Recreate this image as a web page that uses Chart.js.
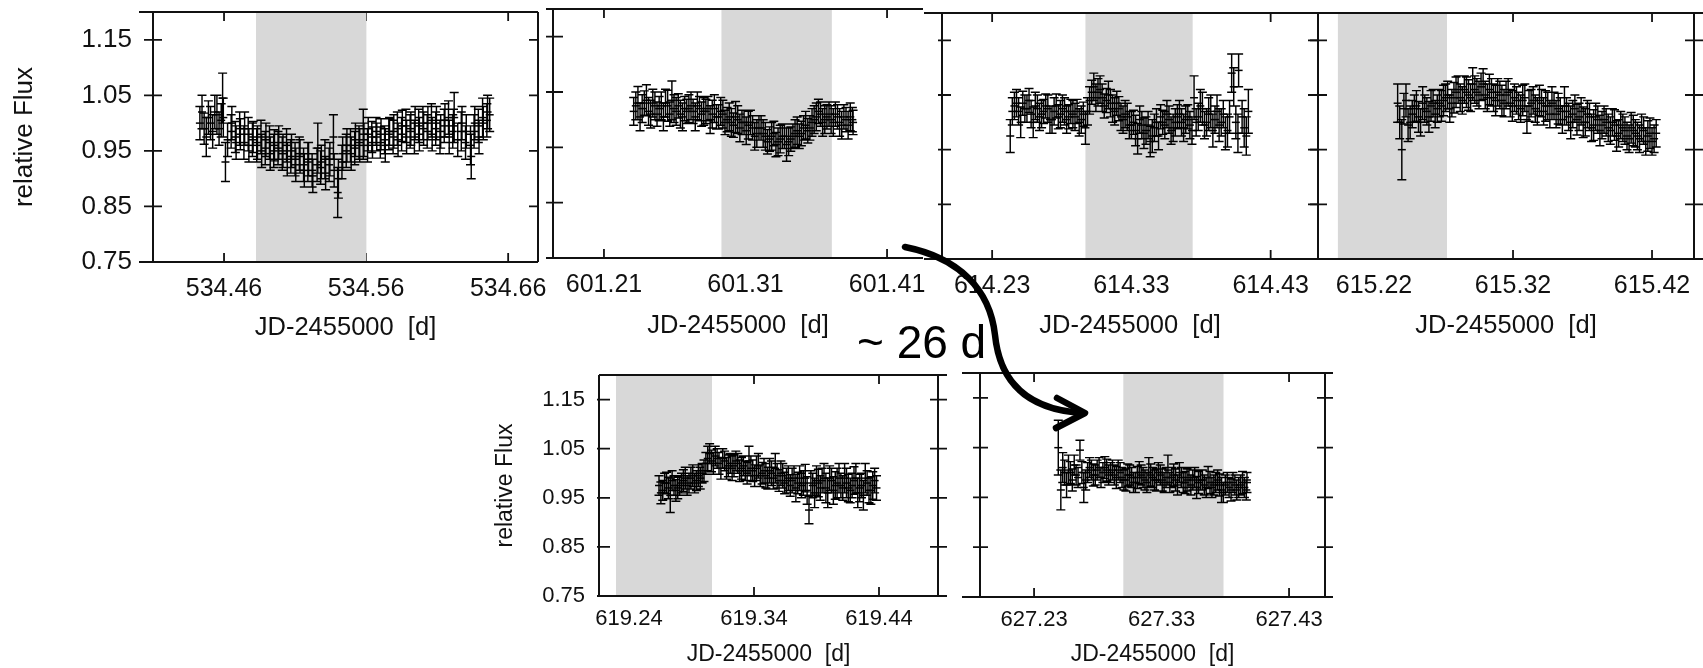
<!DOCTYPE html>
<html>
<head>
<meta charset="utf-8">
<title>light curves</title>
<script src="https://cdn.jsdelivr.net/npm/chart.js@4.4.1/dist/chart.umd.min.js"></script>
<style>
  body { margin: 0; background: #fff; width: 1703px; height: 668px; position: relative; overflow: hidden; }
  canvas { position: absolute; }
  svg { position: absolute; left: 0; top: 0; }
</style>
</head>
<body>
<canvas id="p1"></canvas>
<canvas id="p2"></canvas>
<canvas id="p3"></canvas>
<canvas id="p4"></canvas>
<canvas id="p5"></canvas>
<canvas id="p6"></canvas>
<svg width="1703" height="668">
  <path d="M905 247 C960 258 990 290 995 335 C1000 385 1030 410 1083 413" fill="none" stroke="#000" stroke-width="6.5" stroke-linecap="round"/>
  <polyline points="1057,398 1085,413 1056,428" fill="none" stroke="#000" stroke-width="6.5" stroke-linecap="round" stroke-linejoin="round"/>
  <text x="857" y="358" font-family="Liberation Sans, Arial, sans-serif" font-size="46" fill="#000">~ 26 d</text>
</svg>
<script>
// y axis is the same for every panel
const fluxTicks = [0.75, 0.85, 0.95, 1.05, 1.15];

// panel 1 (two interleaved halves of the run)
const p1Time = [534.443, 534.446, 534.449, 534.452, 534.455, 534.458, 534.459, 534.461, 534.465, 534.468,
  534.471, 534.474, 534.477, 534.480, 534.483, 534.486, 534.489, 534.492, 534.495, 534.498,
  534.501, 534.504, 534.507, 534.510, 534.513, 534.516, 534.519, 534.522, 534.526, 534.528,
  534.531, 534.534, 534.537, 534.540, 534.543, 534.546, 534.549, 534.552, 534.555, 534.558,
  534.561, 534.564, 534.567, 534.570, 534.573, 534.576, 534.579, 534.582, 534.585, 534.588,
  534.591, 534.594, 534.597, 534.600, 534.603, 534.606, 534.609, 534.612, 534.615, 534.618,
  534.621, 534.622, 534.627, 534.630, 534.634, 534.636, 534.639, 534.642, 534.645, 534.647];
const p1Flux = [1.000, 0.990, 1.010, 0.985, 1.015, 1.005, 1.045, 0.930, 0.985, 0.975,
  0.990, 0.965, 0.980, 0.970, 0.960, 0.975, 0.955, 0.965, 0.950, 0.955,
  0.945, 0.960, 0.940, 0.935, 0.945, 0.925, 0.930, 0.915, 0.955, 0.920,
  0.935, 0.925, 0.975, 0.875, 0.930, 0.950, 0.960, 0.955, 0.965, 0.980,
  0.960, 0.975, 0.985, 0.965, 0.970, 0.980, 0.975, 0.990, 0.980, 0.995,
  0.985, 0.975, 0.995, 1.000, 0.985, 1.005, 0.990, 0.975, 0.995, 1.010,
  0.985, 1.010, 0.985, 0.965, 0.940, 0.985, 0.995, 1.010, 1.005, 1.015];
const p1Err = [0.03, 0.028, 0.03, 0.03, 0.035, 0.03, 0.045, 0.035, 0.03, 0.028,
  0.03, 0.03, 0.03, 0.03, 0.03, 0.03, 0.03, 0.03, 0.03, 0.03,
  0.03, 0.03, 0.03, 0.03, 0.03, 0.03, 0.035, 0.03, 0.045, 0.03,
  0.035, 0.03, 0.04, 0.045, 0.03, 0.03, 0.03, 0.03, 0.03, 0.045,
  0.03, 0.028, 0.025, 0.028, 0.025, 0.028, 0.03, 0.03, 0.03, 0.03,
  0.03, 0.03, 0.03, 0.03, 0.03, 0.03, 0.03, 0.03, 0.03, 0.03,
  0.03, 0.045, 0.035, 0.03, 0.04, 0.03, 0.03, 0.035, 0.03, 0.03];
const p1TimeB = [534.4445, 534.4475, 534.4505, 534.4535, 534.4565, 534.4595, 534.4625, 534.4655, 534.4685, 534.4715,
  534.4745, 534.4775, 534.4805, 534.4835, 534.4865, 534.4895, 534.4925, 534.4955, 534.4985, 534.5015,
  534.5045, 534.5075, 534.5105, 534.5135, 534.5165, 534.5195, 534.5225, 534.5255, 534.5285, 534.5315,
  534.5345, 534.5375, 534.5405, 534.5435, 534.5465, 534.5495, 534.5525, 534.5555, 534.5585, 534.5615,
  534.5645, 534.5675, 534.5705, 534.5735, 534.5765, 534.5795, 534.5825, 534.5855, 534.5885, 534.5915,
  534.5945, 534.5975, 534.6005, 534.6035, 534.6065, 534.6095, 534.6125, 534.6155, 534.6185, 534.6215,
  534.6245, 534.6275, 534.6305, 534.6335, 534.6365, 534.6395, 534.6425, 534.6455];
const p1FluxB = [1.020, 0.975, 1.000, 1.020, 0.990, 1.010, 0.970, 1.000, 0.965, 0.980,
  0.990, 0.960, 0.975, 0.965, 0.950, 0.970, 0.945, 0.960, 0.965, 0.950,
  0.935, 0.950, 0.925, 0.940, 0.915, 0.935, 0.905, 0.925, 0.930, 0.910,
  0.935, 0.915, 0.900, 0.945, 0.960, 0.945, 0.970, 0.960, 0.970, 0.980,
  0.965, 0.975, 0.980, 0.960, 0.985, 0.985, 0.970, 0.995, 0.975, 0.990,
  1.000, 0.980, 0.990, 1.000, 0.980, 1.000, 0.985, 1.005, 0.975, 0.995,
  0.970, 1.000, 0.985, 0.960, 1.000, 0.975, 1.000, 1.020];
const p1ErrB = [0.03, 0.035, 0.03, 0.03, 0.03, 0.035, 0.03, 0.03, 0.03, 0.028,
  0.03, 0.03, 0.028, 0.03, 0.03, 0.03, 0.03, 0.028, 0.03, 0.03,
  0.03, 0.03, 0.03, 0.03, 0.03, 0.03, 0.03, 0.03, 0.03, 0.03,
  0.03, 0.03, 0.035, 0.03, 0.03, 0.03, 0.03, 0.03, 0.03, 0.03,
  0.028, 0.025, 0.028, 0.03, 0.025, 0.03, 0.03, 0.028, 0.03, 0.03,
  0.03, 0.03, 0.03, 0.03, 0.03, 0.03, 0.03, 0.03, 0.03, 0.03,
  0.03, 0.03, 0.03, 0.035, 0.03, 0.03, 0.03, 0.03];
const p1Ticks = [534.46, 534.56, 534.66];
const p1Shade = [534.4825, 534.5602];

// panel 2
const p2Time = [601.231, 601.234, 601.237, 601.240, 601.243, 601.246, 601.249, 601.252, 601.255, 601.258,
  601.261, 601.264, 601.267, 601.270, 601.273, 601.276, 601.279, 601.282, 601.285, 601.288,
  601.291, 601.294, 601.297, 601.300, 601.303, 601.306, 601.309, 601.312, 601.315, 601.318,
  601.321, 601.324, 601.327, 601.330, 601.333, 601.336, 601.339, 601.342, 601.345, 601.348,
  601.351, 601.354, 601.357, 601.360, 601.363, 601.366, 601.369, 601.372, 601.375, 601.378,
  601.381, 601.384, 601.386];
const p2Flux = [1.015, 1.030, 1.020, 1.035, 1.010, 1.025, 1.020, 1.005, 1.025, 1.035,
  1.015, 1.010, 1.020, 1.020, 1.015, 1.025, 1.010, 1.015, 1.000, 1.020,
  1.005, 1.010, 1.000, 0.995, 1.005, 0.985, 0.995, 0.990, 0.985, 0.975,
  0.985, 0.970, 0.965, 0.975, 0.960, 0.970, 0.955, 0.965, 0.975, 0.970,
  0.985, 0.980, 0.995, 1.005, 1.010, 1.000, 1.010, 0.995, 1.005, 0.990,
  1.000, 1.005, 0.995];
const p2Err = [0.025, 0.03, 0.025, 0.028, 0.025, 0.025, 0.022, 0.025, 0.028, 0.035,
  0.025, 0.025, 0.022, 0.025, 0.022, 0.025, 0.022, 0.022, 0.025, 0.025,
  0.022, 0.025, 0.022, 0.025, 0.028, 0.025, 0.022, 0.025, 0.022, 0.025,
  0.022, 0.025, 0.022, 0.022, 0.025, 0.022, 0.03, 0.022, 0.025, 0.022,
  0.022, 0.022, 0.025, 0.025, 0.022, 0.025, 0.022, 0.025, 0.022, 0.025,
  0.022, 0.025, 0.022];
const p2TimeB = [601.2325, 601.2355, 601.2385, 601.2415, 601.2445, 601.2475, 601.2505, 601.2535, 601.2565, 601.2595,
  601.2625, 601.2655, 601.2685, 601.2715, 601.2745, 601.2775, 601.2805, 601.2835, 601.2865, 601.2895,
  601.2925, 601.2955, 601.2985, 601.3015, 601.3045, 601.3075, 601.3105, 601.3135, 601.3165, 601.3195,
  601.3225, 601.3255, 601.3285, 601.3315, 601.3345, 601.3375, 601.3405, 601.3435, 601.3465, 601.3495,
  601.3525, 601.3555, 601.3585, 601.3615, 601.3645, 601.3675, 601.3705, 601.3735, 601.3765, 601.3795,
  601.3825, 601.3855];
const p2FluxB = [1.025, 1.005, 1.030, 1.015, 1.030, 1.010, 1.025, 1.030, 1.010, 1.020,
  1.025, 1.005, 1.015, 1.025, 1.005, 1.020, 1.015, 1.020, 1.010, 1.005,
  1.015, 0.995, 1.005, 0.990, 1.000, 0.995, 0.980, 0.995, 0.970, 0.985,
  0.975, 0.960, 0.970, 0.955, 0.965, 0.970, 0.960, 0.970, 0.980, 0.975,
  0.990, 0.985, 1.000, 1.015, 0.995, 1.005, 1.000, 1.010, 0.995, 1.005,
  0.990, 1.000];
const p2ErrB = [0.025, 0.025, 0.022, 0.025, 0.025, 0.022, 0.025, 0.025, 0.022, 0.025,
  0.022, 0.025, 0.022, 0.025, 0.025, 0.022, 0.025, 0.022, 0.025, 0.022,
  0.025, 0.022, 0.025, 0.022, 0.025, 0.022, 0.025, 0.022, 0.025, 0.022,
  0.025, 0.022, 0.025, 0.022, 0.025, 0.022, 0.025, 0.022, 0.025, 0.022,
  0.025, 0.022, 0.025, 0.022, 0.025, 0.022, 0.025, 0.022, 0.025, 0.022,
  0.025, 0.022];
const p2Ticks = [601.21, 601.31, 601.41];
const p2Shade = [601.293, 601.371];

// panel 3
const p3Time = [614.243, 614.246, 614.249, 614.252, 614.255, 614.258, 614.261, 614.264, 614.267, 614.270,
  614.273, 614.276, 614.279, 614.282, 614.285, 614.288, 614.291, 614.294, 614.297, 614.300,
  614.303, 614.306, 614.309, 614.312, 614.315, 614.318, 614.321, 614.324, 614.327, 614.330,
  614.333, 614.336, 614.339, 614.342, 614.345, 614.348, 614.351, 614.354, 614.357, 614.360,
  614.363, 614.366, 614.369, 614.372, 614.375, 614.378, 614.381, 614.384, 614.387, 614.390,
  614.393, 614.396, 614.399, 614.402, 614.405, 614.407, 614.411, 614.414];
const p3Flux = [0.975, 1.030, 1.020, 1.035, 1.025, 1.015, 1.030, 1.010, 1.020, 1.025,
  1.005, 1.030, 1.015, 1.020, 1.010, 1.015, 1.020, 1.005, 0.990, 1.040,
  1.065, 1.055, 1.045, 1.040, 1.035, 1.020, 1.025, 1.005, 1.010, 0.995,
  0.985, 1.005, 0.980, 0.995, 0.975, 1.000, 1.010, 0.995, 1.005, 0.990,
  1.010, 1.000, 1.005, 0.995, 1.045, 1.010, 1.025, 1.000, 1.020, 1.005,
  0.995, 1.015, 0.985, 1.090, 1.000, 1.095, 0.990, 1.020];
const p3Err = [0.03, 0.025, 0.025, 0.022, 0.025, 0.025, 0.025, 0.025, 0.022, 0.025,
  0.025, 0.022, 0.025, 0.025, 0.022, 0.025, 0.022, 0.025, 0.03, 0.025,
  0.025, 0.025, 0.025, 0.022, 0.025, 0.025, 0.022, 0.025, 0.025, 0.025,
  0.028, 0.025, 0.028, 0.025, 0.03, 0.025, 0.022, 0.025, 0.025, 0.025,
  0.022, 0.025, 0.025, 0.025, 0.04, 0.025, 0.03, 0.025, 0.03, 0.025,
  0.03, 0.025, 0.03, 0.035, 0.03, 0.03, 0.035, 0.04];
const p3TimeB = [614.2445, 614.2475, 614.2505, 614.2535, 614.2565, 614.2595, 614.2625, 614.2655, 614.2685, 614.2715,
  614.2745, 614.2775, 614.2805, 614.2835, 614.2865, 614.2895, 614.2925, 614.2955, 614.2985, 614.3015,
  614.3045, 614.3075, 614.3105, 614.3135, 614.3165, 614.3195, 614.3225, 614.3255, 614.3285, 614.3315,
  614.3345, 614.3375, 614.3405, 614.3435, 614.3465, 614.3495, 614.3525, 614.3555, 614.3585, 614.3615,
  614.3645, 614.3675, 614.3705, 614.3735, 614.3765, 614.3795, 614.3825, 614.3855, 614.3885, 614.3915,
  614.3945, 614.3975, 614.4005, 614.4035, 614.4065, 614.4095, 614.4125];
const p3FluxB = [1.020, 1.035, 1.000, 1.025, 1.040, 1.000, 1.025, 1.015, 1.030, 1.005,
  1.020, 1.010, 1.025, 1.005, 1.020, 1.010, 1.000, 1.015, 1.020, 1.055,
  1.045, 1.060, 1.030, 1.050, 1.025, 1.035, 1.010, 1.015, 0.995, 1.000,
  0.970, 0.995, 0.985, 0.965, 0.990, 0.975, 1.000, 1.015, 0.985, 1.000,
  1.015, 0.990, 1.010, 0.985, 1.000, 1.030, 0.995, 1.015, 0.985, 1.020,
  1.000, 0.980, 1.010, 1.065, 0.980, 1.010, 0.975];
const p3ErrB = [0.025, 0.025, 0.028, 0.025, 0.022, 0.028, 0.025, 0.025, 0.022, 0.025,
  0.025, 0.022, 0.025, 0.025, 0.022, 0.025, 0.025, 0.022, 0.025, 0.022,
  0.025, 0.025, 0.022, 0.025, 0.025, 0.022, 0.025, 0.025, 0.025, 0.022,
  0.028, 0.025, 0.025, 0.028, 0.025, 0.025, 0.022, 0.025, 0.025, 0.025,
  0.025, 0.025, 0.022, 0.025, 0.025, 0.03, 0.025, 0.03, 0.03, 0.03,
  0.025, 0.03, 0.03, 0.035, 0.035, 0.03, 0.035];
const p3Ticks = [614.23, 614.33, 614.43];
const p3Shade = [614.297, 614.374];

// panel 4
const p4Time = [615.237, 615.240, 615.243, 615.246, 615.249, 615.252, 615.255, 615.258, 615.261, 615.264,
  615.267, 615.270, 615.273, 615.276, 615.279, 615.282, 615.285, 615.288, 615.291, 615.294,
  615.297, 615.300, 615.303, 615.306, 615.309, 615.312, 615.315, 615.318, 615.321, 615.324,
  615.327, 615.330, 615.333, 615.336, 615.339, 615.342, 615.345, 615.348, 615.351, 615.354,
  615.357, 615.360, 615.363, 615.366, 615.369, 615.372, 615.375, 615.378, 615.381, 615.384,
  615.387, 615.390, 615.393, 615.396, 615.399, 615.402, 615.405, 615.408, 615.411, 615.414,
  615.417, 615.420, 615.423];
const p4Flux = [1.035, 0.950, 1.040, 1.000, 1.025, 1.010, 1.035, 1.020, 1.030, 1.015,
  1.035, 1.040, 1.050, 1.035, 1.055, 1.045, 1.060, 1.050, 1.070, 1.055,
  1.065, 1.050, 1.060, 1.045, 1.055, 1.040, 1.050, 1.035, 1.045, 1.030,
  1.040, 1.005, 1.035, 1.025, 1.040, 1.020, 1.030, 1.035, 1.015, 1.020,
  1.030, 1.010, 1.015, 1.005, 1.020, 1.000, 1.010, 0.995, 1.005, 0.995,
  1.000, 0.985, 0.995, 0.980, 0.990, 0.975, 0.990, 0.980, 0.970, 0.985,
  0.975, 0.965, 0.980];
const p4Err = [0.035, 0.055, 0.03, 0.03, 0.025, 0.028, 0.03, 0.025, 0.028, 0.025,
  0.025, 0.028, 0.025, 0.025, 0.028, 0.025, 0.025, 0.028, 0.03, 0.025,
  0.025, 0.025, 0.028, 0.025, 0.025, 0.028, 0.025, 0.025, 0.025, 0.025,
  0.028, 0.025, 0.025, 0.025, 0.028, 0.025, 0.025, 0.03, 0.025, 0.025,
  0.035, 0.025, 0.025, 0.028, 0.025, 0.025, 0.025, 0.028, 0.025, 0.025,
  0.025, 0.025, 0.028, 0.025, 0.025, 0.025, 0.028, 0.025, 0.025, 0.025,
  0.028, 0.025, 0.025];
const p4TimeB = [615.2385, 615.2415, 615.2445, 615.2475, 615.2505, 615.2535, 615.2565, 615.2595, 615.2625, 615.2655,
  615.2685, 615.2715, 615.2745, 615.2775, 615.2805, 615.2835, 615.2865, 615.2895, 615.2925, 615.2955,
  615.2985, 615.3015, 615.3045, 615.3075, 615.3105, 615.3135, 615.3165, 615.3195, 615.3225, 615.3255,
  615.3285, 615.3315, 615.3345, 615.3375, 615.3405, 615.3435, 615.3465, 615.3495, 615.3525, 615.3555,
  615.3585, 615.3615, 615.3645, 615.3675, 615.3705, 615.3735, 615.3765, 615.3795, 615.3825, 615.3855,
  615.3885, 615.3915, 615.3945, 615.3975, 615.4005, 615.4035, 615.4065, 615.4095, 615.4125, 615.4155,
  615.4185, 615.4215];
const p4FluxB = [1.000, 1.025, 0.995, 1.015, 1.030, 1.000, 1.025, 1.010, 1.035, 1.025,
  1.030, 1.045, 1.025, 1.045, 1.060, 1.040, 1.055, 1.045, 1.060, 1.050,
  1.070, 1.045, 1.055, 1.040, 1.050, 1.035, 1.055, 1.030, 1.040, 1.025,
  1.045, 1.030, 1.040, 1.020, 1.035, 1.030, 1.015, 1.030, 1.025, 1.005,
  1.020, 1.000, 1.025, 1.010, 1.000, 1.015, 0.990, 1.010, 0.985, 1.005,
  0.990, 1.000, 0.975, 0.995, 0.985, 0.970, 0.985, 0.975, 0.990, 0.965,
  0.980, 0.970];
const p4ErrB = [0.03, 0.028, 0.03, 0.025, 0.028, 0.025, 0.025, 0.028, 0.025, 0.025,
  0.028, 0.025, 0.025, 0.028, 0.025, 0.025, 0.028, 0.025, 0.025, 0.025,
  0.028, 0.025, 0.025, 0.028, 0.025, 0.025, 0.025, 0.028, 0.025, 0.025,
  0.025, 0.028, 0.025, 0.025, 0.025, 0.028, 0.025, 0.025, 0.028, 0.025,
  0.025, 0.03, 0.025, 0.025, 0.028, 0.025, 0.025, 0.025, 0.028, 0.025,
  0.025, 0.025, 0.028, 0.025, 0.025, 0.025, 0.028, 0.025, 0.025, 0.025,
  0.028, 0.025];
const p4Ticks = [615.22, 615.32, 615.42];
const p4Shade = [615.194, 615.2725];

// panel 5
const p5Time = [619.264, 619.267, 619.270, 619.273, 619.276, 619.279, 619.282, 619.285, 619.288, 619.291,
  619.294, 619.297, 619.300, 619.303, 619.306, 619.309, 619.312, 619.315, 619.318, 619.321,
  619.324, 619.327, 619.330, 619.333, 619.336, 619.339, 619.342, 619.345, 619.348, 619.351,
  619.354, 619.357, 619.360, 619.363, 619.366, 619.369, 619.372, 619.375, 619.378, 619.381,
  619.384, 619.387, 619.390, 619.393, 619.396, 619.399, 619.402, 619.405, 619.408, 619.411,
  619.414, 619.417, 619.420, 619.423, 619.426, 619.429, 619.432, 619.435, 619.438];
const p5Flux = [0.975, 0.965, 0.980, 0.955, 0.975, 0.970, 0.980, 0.990, 0.980, 0.995,
  0.985, 0.990, 1.005, 1.030, 1.025, 1.035, 1.020, 1.030, 1.010, 1.020,
  1.015, 1.020, 1.010, 1.005, 1.025, 1.005, 1.010, 0.995, 1.005, 0.990,
  1.000, 1.010, 0.985, 0.995, 0.985, 0.975, 0.990, 0.980, 0.975, 0.990,
  0.925, 0.975, 0.985, 0.970, 0.990, 0.960, 0.985, 0.975, 0.990, 0.970,
  0.980, 0.965, 0.985, 0.960, 0.975, 0.990, 0.965, 0.975, 0.970];
const p5Err = [0.02, 0.02, 0.022, 0.035, 0.02, 0.022, 0.02, 0.022, 0.02, 0.022,
  0.02, 0.022, 0.022, 0.025, 0.022, 0.02, 0.022, 0.02, 0.022, 0.02,
  0.022, 0.02, 0.022, 0.02, 0.03, 0.022, 0.025, 0.022, 0.025, 0.022,
  0.025, 0.03, 0.022, 0.025, 0.025, 0.022, 0.025, 0.022, 0.025, 0.028,
  0.028, 0.025, 0.03, 0.025, 0.03, 0.03, 0.025, 0.028, 0.03, 0.025,
  0.03, 0.025, 0.028, 0.03, 0.025, 0.03, 0.025, 0.028, 0.025];
const p5TimeB = [619.2655, 619.2685, 619.2715, 619.2745, 619.2775, 619.2805, 619.2835, 619.2865, 619.2895, 619.2925,
  619.2955, 619.2985, 619.3015, 619.3045, 619.3075, 619.3105, 619.3135, 619.3165, 619.3195, 619.3225,
  619.3255, 619.3285, 619.3315, 619.3345, 619.3375, 619.3405, 619.3435, 619.3465, 619.3495, 619.3525,
  619.3555, 619.3585, 619.3615, 619.3645, 619.3675, 619.3705, 619.3735, 619.3765, 619.3795, 619.3825,
  619.3855, 619.3885, 619.3915, 619.3945, 619.3975, 619.4005, 619.4035, 619.4065, 619.4095, 619.4125,
  619.4155, 619.4185, 619.4215, 619.4245, 619.4275, 619.4305, 619.4335, 619.4365];
const p5FluxB = [0.960, 0.980, 0.970, 0.985, 0.965, 0.975, 0.985, 0.975, 0.990, 0.980,
  0.995, 1.000, 1.020, 1.040, 1.020, 1.030, 1.010, 1.025, 1.015, 1.010,
  1.025, 1.005, 1.015, 1.000, 1.010, 0.995, 1.015, 1.000, 0.995, 1.005,
  0.990, 0.995, 1.000, 0.980, 0.990, 0.985, 0.970, 0.990, 0.980, 0.965,
  0.980, 0.960, 0.980, 0.985, 0.970, 0.990, 0.965, 0.980, 0.975, 0.990,
  0.970, 0.975, 0.990, 0.970, 0.955, 0.980, 0.965, 0.985];
const p5ErrB = [0.022, 0.02, 0.022, 0.02, 0.022, 0.02, 0.022, 0.02, 0.022, 0.02,
  0.022, 0.02, 0.022, 0.02, 0.022, 0.02, 0.022, 0.02, 0.022, 0.025,
  0.02, 0.022, 0.02, 0.022, 0.025, 0.022, 0.025, 0.022, 0.025, 0.025,
  0.022, 0.025, 0.025, 0.022, 0.025, 0.025, 0.028, 0.025, 0.025, 0.028,
  0.025, 0.03, 0.028, 0.025, 0.03, 0.025, 0.028, 0.03, 0.025, 0.03,
  0.028, 0.025, 0.03, 0.028, 0.03, 0.025, 0.028, 0.025];
const p5Ticks = [619.24, 619.34, 619.44];
const p5Shade = [619.2296, 619.3064];

// panel 6
const p6Time = [627.249, 627.251, 627.254, 627.257, 627.260, 627.263, 627.266, 627.269, 627.272, 627.275,
  627.278, 627.281, 627.284, 627.287, 627.290, 627.293, 627.296, 627.299, 627.302, 627.305,
  627.308, 627.311, 627.314, 627.317, 627.320, 627.323, 627.326, 627.329, 627.332, 627.335,
  627.338, 627.341, 627.344, 627.347, 627.350, 627.353, 627.356, 627.359, 627.362, 627.365,
  627.368, 627.371, 627.374, 627.377, 627.380, 627.383, 627.386, 627.389, 627.392, 627.395,
  627.397];
const p6Flux = [1.050, 0.965, 1.000, 1.005, 0.985, 0.995, 1.045, 0.970, 1.000, 1.005,
  0.995, 1.010, 1.000, 1.005, 1.000, 0.995, 1.005, 0.990, 0.985, 0.995,
  0.980, 0.990, 0.995, 0.985, 1.000, 0.990, 0.985, 0.995, 0.980, 1.005,
  0.990, 0.985, 1.000, 0.980, 0.985, 0.975, 0.990, 0.980, 0.985, 0.970,
  0.980, 0.975, 0.985, 0.965, 0.975, 0.970, 0.980, 0.965, 0.975, 0.970,
  0.980];
const p6Err = [0.055, 0.04, 0.025, 0.03, 0.022, 0.02, 0.02, 0.03, 0.02, 0.02,
  0.02, 0.02, 0.02, 0.022, 0.02, 0.02, 0.02, 0.02, 0.022, 0.02,
  0.02, 0.022, 0.02, 0.02, 0.03, 0.02, 0.022, 0.02, 0.02, 0.03,
  0.02, 0.022, 0.02, 0.02, 0.022, 0.02, 0.02, 0.022, 0.02, 0.02,
  0.022, 0.02, 0.02, 0.025, 0.02, 0.02, 0.02, 0.02, 0.02, 0.02,
  0.02];
const p6TimeB = [627.2525, 627.2555, 627.2585, 627.2615, 627.2645, 627.2675, 627.2705, 627.2735, 627.2765, 627.2795,
  627.2825, 627.2855, 627.2885, 627.2915, 627.2945, 627.2975, 627.3005, 627.3035, 627.3065, 627.3095,
  627.3125, 627.3155, 627.3185, 627.3215, 627.3245, 627.3275, 627.3305, 627.3335, 627.3365, 627.3395,
  627.3425, 627.3455, 627.3485, 627.3515, 627.3545, 627.3575, 627.3605, 627.3635, 627.3665, 627.3695,
  627.3725, 627.3755, 627.3785, 627.3815, 627.3845, 627.3875, 627.3905, 627.3935, 627.3965];
const p6FluxB = [1.010, 0.975, 1.000, 1.015, 0.990, 1.000, 0.985, 1.010, 0.995, 1.005,
  0.990, 1.010, 0.995, 1.005, 0.990, 1.000, 0.985, 0.995, 0.990, 0.980,
  1.000, 0.990, 0.980, 0.995, 0.985, 1.000, 0.985, 0.990, 0.980, 0.995,
  0.975, 0.990, 0.980, 0.990, 0.985, 0.970, 0.985, 0.975, 0.990, 0.970,
  0.980, 0.975, 0.960, 0.980, 0.965, 0.975, 0.970, 0.980, 0.965];
const p6ErrB = [0.03, 0.025, 0.022, 0.02, 0.02, 0.022, 0.02, 0.02, 0.022, 0.02,
  0.02, 0.022, 0.02, 0.02, 0.022, 0.02, 0.02, 0.022, 0.02, 0.02,
  0.022, 0.02, 0.02, 0.022, 0.02, 0.02, 0.022, 0.02, 0.02, 0.022,
  0.02, 0.02, 0.022, 0.02, 0.02, 0.022, 0.02, 0.02, 0.022, 0.02,
  0.02, 0.022, 0.02, 0.02, 0.022, 0.02, 0.02, 0.022, 0.02];
const p6Ticks = [627.23, 627.33, 627.43];
const p6Shade = [627.300, 627.3786];

Chart.defaults.font.family = '"Liberation Sans", Arial, Helvetica, sans-serif';
Chart.defaults.color = '#111';
const ink = '#111';
const barInk = '#000';

// frame, gnuplot style ticks, shaded window and error bars
function framePlugin(p) {
  return {
    id: 'frame_' + p.id,
    beforeDatasetsDraw(chart) {
      const { ctx, chartArea: a, scales: { x, y } } = chart;
      ctx.save();
      ctx.strokeStyle = ink;
      ctx.lineWidth = 1.8;
      ctx.beginPath();
      fluxTicks.forEach(v => {
        const py = y.getPixelForValue(v);
        if (p.left) { ctx.moveTo(a.left - p.lOut, py); ctx.lineTo(a.left + p.lIn, py); }
        if (p.right) { ctx.moveTo(a.right - p.rIn, py); ctx.lineTo(a.right + p.rOut, py); }
      });
      p.ticks.forEach(v => {
        const px = x.getPixelForValue(v);
        ctx.moveTo(px, a.top); ctx.lineTo(px, a.top + 9);
        ctx.moveTo(px, a.bottom); ctx.lineTo(px, a.bottom - 9);
      });
      ctx.stroke();
      const s0 = x.getPixelForValue(p.shade[0]);
      const s1 = x.getPixelForValue(p.shade[1]);
      ctx.fillStyle = '#d8d8d8';
      ctx.fillRect(s0, a.top, s1 - s0, a.bottom - a.top);
      ctx.restore();
    },
    afterDatasetsDraw(chart) {
      const { ctx, chartArea: a, scales: { x, y } } = chart;
      ctx.save();
      ctx.strokeStyle = barInk;
      ctx.lineWidth = 1.45;
      ctx.beginPath();
      p.time.forEach((t, i) => {
        const px = x.getPixelForValue(t);
        const lo = y.getPixelForValue(p.flux[i] - p.err[i]);
        const hi = y.getPixelForValue(p.flux[i] + p.err[i]);
        ctx.moveTo(px, lo); ctx.lineTo(px, hi);
        ctx.moveTo(px - 4.5, lo); ctx.lineTo(px + 4.5, lo);
        ctx.moveTo(px - 4.5, hi); ctx.lineTo(px + 4.5, hi);
      });
      ctx.stroke();
      ctx.strokeStyle = ink;
      ctx.lineWidth = 2;
      ctx.beginPath();
      ctx.moveTo(a.left - p.extL, a.top); ctx.lineTo(a.right + p.extR, a.top);
      ctx.moveTo(a.left - p.extL, a.bottom); ctx.lineTo(a.right + p.extR, a.bottom);
      if (p.left) { ctx.moveTo(a.left, a.top); ctx.lineTo(a.left, a.bottom); }
      if (p.right) { ctx.moveTo(a.right, a.top); ctx.lineTo(a.right, a.bottom); }
      ctx.stroke();
      ctx.restore();
    }
  };
}

function makePanel(p) {
  const cv = document.getElementById(p.id);
  cv.width = p.w;
  cv.height = p.h;
  cv.style.left = p.x + 'px';
  cv.style.top = p.y + 'px';
  // chart area in canvas coordinates
  const L = p.area[0] - p.x, T = p.area[1] - p.y, R = p.area[2] - p.x, B = p.area[3] - p.y;

  new Chart(cv, {
    type: 'scatter',
    data: {
      datasets: [{
        data: p.time.map((t, i) => ({ x: t, y: p.flux[i] })),
        pointStyle: 'line',
        pointRadius: 4,
        borderColor: barInk,
        backgroundColor: barInk,
        borderWidth: 1.5
      }]
    },
    options: {
      responsive: false,
      animation: false,
      events: [],
      layout: { autoPadding: false, padding: { left: 0, top: T, right: p.w - R, bottom: 0 } },
      plugins: { legend: { display: false }, tooltip: { enabled: false } },
      scales: {
        x: {
          type: 'linear',
          min: p.xMin,
          max: p.xMax,
          grid: { display: false, drawTicks: false, tickLength: 0 },
          border: { display: false },
          afterBuildTicks: s => { s.ticks = p.ticks.map(v => ({ value: v })); },
          afterFit: s => { s.height = p.h - B; s.paddingLeft = 0; s.paddingRight = 0; },
          ticks: {
            autoSkip: false, maxRotation: 0, minRotation: 0,
            padding: p.xPad,
            font: { size: p.tickSize },
            callback: v => v.toFixed(2)
          },
          title: {
            display: true,
            text: 'JD-2455000  [d]',
            font: { size: p.titleSize },
            padding: { top: 0, bottom: p.xTitlePad }
          }
        },
        y: {
          type: 'linear',
          min: 0.75,
          max: 1.2,
          grid: { display: false, drawTicks: false, tickLength: 0 },
          border: { display: false },
          afterBuildTicks: s => { s.ticks = fluxTicks.map(v => ({ value: v })); },
          afterFit: s => { s.width = L; s.paddingTop = 0; s.paddingBottom = 0; },
          ticks: {
            display: p.yLabels,
            padding: p.yPad,
            font: { size: p.yTickSize },
            callback: v => v.toFixed(2)
          },
          title: {
            display: p.yLabels,
            text: 'relative Flux',
            font: { size: p.yTitleSize },
            padding: { top: p.yTitlePad, bottom: 0 }
          }
        }
      }
    },
    plugins: [framePlugin(p)]
  });
}

const topRow = { tickSize: 25, titleSize: 25.5, xPad: 12, xTitlePad: 4, yTickSize: 26, yTitleSize: 26, yPad: 21, yTitlePad: 9 };
const bottomRow = { tickSize: 22, titleSize: 23, xPad: 10, xTitlePad: 0, yTickSize: 22, yTitleSize: 23, yPad: 14, yTitlePad: 12 };

makePanel({ ...topRow, id: 'p1', x: 0, y: 0, w: 560, h: 345, area: [153, 12, 538, 262],
  xMin: 534.41, xMax: 534.681, time: [...p1Time, ...p1TimeB], flux: [...p1Flux, ...p1FluxB], err: [...p1Err, ...p1ErrB],
  ticks: p1Ticks, shade: p1Shade,
  yLabels: true, xTitlePad: 2, left: true, lOut: 9, lIn: 9, right: true, rIn: 9, rOut: 0, extL: 14, extR: 0 });
makePanel({ ...topRow, id: 'p2', x: 535, y: 0, w: 405, h: 345, area: [553, 9, 923, 258],
  xMin: 601.174, xMax: 601.4354, time: [...p2Time, ...p2TimeB], flux: [...p2Flux, ...p2FluxB], err: [...p2Err, ...p2ErrB],
  ticks: p2Ticks, shade: p2Shade,
  yLabels: false, left: true, lOut: 7, lIn: 10, right: false, rIn: 0, rOut: 0, extL: 7, extR: 0 });
makePanel({ ...topRow, id: 'p3', x: 920, y: 0, w: 412, h: 345, area: [942, 13, 1318, 259],
  xMin: 614.194, xMax: 614.464, time: [...p3Time, ...p3TimeB], flux: [...p3Flux, ...p3FluxB], err: [...p3Err, ...p3ErrB],
  ticks: p3Ticks, shade: p3Shade,
  yLabels: false, left: true, lOut: 4, lIn: 9, right: true, rIn: 8, rOut: 0, extL: 18, extR: 0 });
makePanel({ ...topRow, id: 'p4', x: 1300, y: 0, w: 403, h: 345, area: [1318, 13, 1694, 259],
  xMin: 615.1797, xMax: 615.4502, time: [...p4Time, ...p4TimeB], flux: [...p4Flux, ...p4FluxB], err: [...p4Err, ...p4ErrB],
  ticks: p4Ticks, shade: p4Shade,
  yLabels: false, left: true, lOut: 10, lIn: 9, right: true, rIn: 9, rOut: 9, extL: 0, extR: 9 });
makePanel({ ...bottomRow, id: 'p5', x: 480, y: 345, w: 480, h: 323, area: [599, 375, 938, 596],
  xMin: 619.216, xMax: 619.4872, time: [...p5Time, ...p5TimeB], flux: [...p5Flux, ...p5FluxB], err: [...p5Err, ...p5ErrB],
  ticks: p5Ticks, shade: p5Shade,
  yLabels: true, left: true, lOut: 2, lIn: 11, right: true, rIn: 8, rOut: 9, extL: 0, extR: 9 });
makePanel({ ...bottomRow, id: 'p6', x: 960, y: 345, w: 400, h: 323, area: [980, 373, 1325, 597],
  xMin: 627.1876, xMax: 627.4582, time: [...p6Time, ...p6TimeB], flux: [...p6Flux, ...p6FluxB], err: [...p6Err, ...p6ErrB],
  ticks: p6Ticks, shade: p6Shade,
  yLabels: false, left: true, lOut: 7, lIn: 8, right: true, rIn: 8, rOut: 8, extL: 18, extR: 8 });
</script>
</body>
</html>
